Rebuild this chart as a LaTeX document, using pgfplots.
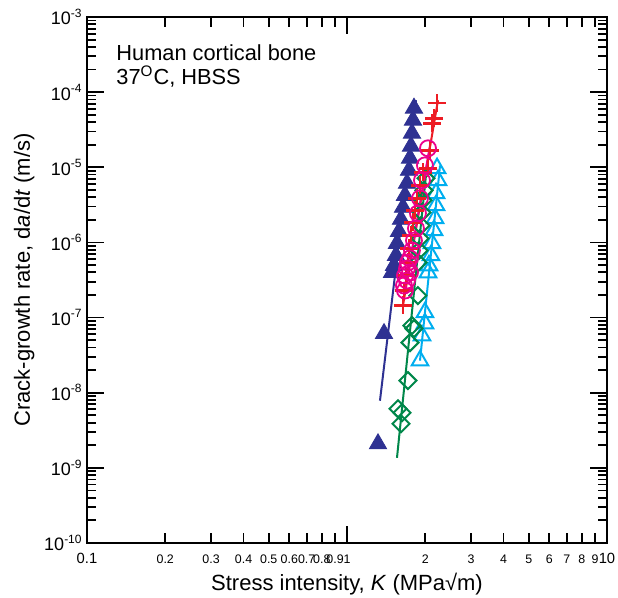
\documentclass[border=0pt]{standalone}
\usepackage{fontspec}
\setmainfont{Liberation Sans}
\usepackage{pgfplots}
\pgfplotsset{compat=1.18}
\definecolor{cblue}{HTML}{2E3192}
\definecolor{ccyan}{HTML}{00AEEF}
\definecolor{cgreen}{HTML}{00874A}
\definecolor{cred}{HTML}{ED1C24}
\definecolor{cmag}{HTML}{EC008C}
\begin{document}
\begin{tikzpicture}
\useasboundingbox (-43.5pt,-27.5pt) rectangle (265.5pt,271.5pt);
\begin{axis}[
  at={(0pt,0pt)}, anchor=south west,
  scale only axis, width=260pt, height=263pt,
  xmode=log, ymode=log,
  xmin=0.1, xmax=10, ymin=1e-10, ymax=1e-3,
  axis line style={line width=1.2pt},
  tick style={black, line width=0.9pt},
  major tick length=8.5pt, minor tick length=4.5pt,
  xtick={0.1,1,10},
  xticklabels={{\fontsize{7.4}{9}\selectfont 0.1},{\fontsize{6.2}{8}\selectfont 1},{\fontsize{7.4}{9}\selectfont 10}},
  minor xtick={0.2,0.3,0.4,0.5,0.6,0.7,0.8,0.9,2,3,4,5,6,7,8,9},
  extra x ticks={0.2,0.3,0.4,0.5,0.6,0.7,0.8,0.9,2,3,4,5,6,7,8,9},
  extra x tick labels={0.2,0.3,0.4,0.5,0.6,0.7,0.8,0.9,2,3,4,5,6,7,8,9},
  extra x tick style={major tick length=5pt, tick label style={font=\fontsize{6.2}{8}\selectfont}},
  x tick label style={anchor=base, inner sep=0pt, yshift=-10.2pt},
  ytick={1e-10,1e-9,1e-8,1e-7,1e-6,1e-5,1e-4,1e-3},
  yticklabels={10\textsuperscript{-10},10\textsuperscript{-9},10\textsuperscript{-8},10\textsuperscript{-7},10\textsuperscript{-6},10\textsuperscript{-5},10\textsuperscript{-4},10\textsuperscript{-3}},
  minor ytick={2e-10,3e-10,4e-10,5e-10,6e-10,7e-10,8e-10,9e-10,
    2e-9,3e-9,4e-9,5e-9,6e-9,7e-9,8e-9,9e-9,
    2e-8,3e-8,4e-8,5e-8,6e-8,7e-8,8e-8,9e-8,
    2e-7,3e-7,4e-7,5e-7,6e-7,7e-7,8e-7,9e-7,
    2e-6,3e-6,4e-6,5e-6,6e-6,7e-6,8e-6,9e-6,
    2e-5,3e-5,4e-5,5e-5,6e-5,7e-5,8e-5,9e-5,
    2e-4,3e-4,4e-4,5e-4,6e-4,7e-4,8e-4,9e-4},
  y tick label style={font=\fontsize{9}{10}\selectfont, anchor=east, inner sep=0pt, xshift=-2pt},
  xlabel={Stress intensity, \textit{K} (MPa√m)},
  xlabel style={font=\fontsize{11}{12}\selectfont, at={(axis description cs:0.5,-0.0894)}, anchor=base, inner sep=0pt},
  ylabel={Crack-growth rate, d\textit{a}/d\textit{t} (m/s)},
  ylabel style={font=\fontsize{11}{12}\selectfont, at={(axis description cs:-0.121,0.5)}, anchor=center, rotate=0},
  clip=false,
]
% blue filled triangles
\addplot[cblue, line width=1pt] coordinates {(1.339,7.82e-9) (1.842,7.82e-5)};
\addplot[only marks, mark=triangle*, mark size=5pt, color=cblue] coordinates {
(1.810,6.12e-5) (1.794,4.23e-5) (1.778,2.84e-5) (1.763,1.91e-5) (1.747,1.32e-5)
(1.732,9.12e-6) (1.701,6.12e-6) (1.671,4.23e-6) (1.642,2.93e-6) (1.613,2.03e-6)
(1.585,1.40e-6) (1.557,9.70e-7) (1.543,6.71e-7) (1.516,4.93e-7) (1.490,3.98e-7)
(1.388,6.12e-8) (1.316,2.09e-9)};
% cyan open triangles
\addplot[ccyan, line width=1pt] coordinates {(1.909,2.67e-8) (2.280,1.06e-5)};
\addplot[only marks, mark=triangle, mark size=4.8pt, color=ccyan, mark options={line width=1pt}] coordinates {
(2.220,9.70e-6) (2.239,6.71e-6) (2.200,4.50e-6) (2.200,3.11e-6) (2.181,2.09e-6)
(2.161,1.45e-6) (2.123,9.70e-7) (2.104,6.71e-7) (2.067,4.93e-7) (2.049,3.98e-7)
(1.995,1.17e-7) (1.995,8.32e-8) (1.943,5.75e-8) (1.909,2.67e-8)};
% green open diamonds
\addplot[cgreen, line width=1pt] coordinates {(1.557,1.36e-9) (2.013,7.82e-6)};
\addplot[only marks, mark=square, mark size=3pt, color=cgreen, mark options={rotate=45, line width=1pt}] coordinates {
(2.013,7.13e-6) (1.978,4.93e-6) (1.960,3.63e-6) (1.943,2.51e-6) (1.926,1.68e-6)
(1.909,1.13e-6) (1.892,7.82e-7) (1.875,5.41e-7) (1.875,1.96e-7) (1.778,7.82e-8)
(1.810,7.13e-8) (1.747,4.64e-8) (1.716,1.45e-8) (1.571,6.12e-9) (1.627,5.41e-9)
(1.613,3.86e-9)};
% red plus
\addplot[cred, line width=1pt] coordinates {(1.642,1.45e-7) (2.239,7.82e-5)};
\addplot[only marks, mark=+, mark size=4.5pt, color=cred, mark options={line width=1.3pt}] coordinates {
(2.220,7.13e-5) (2.161,4.50e-5) (2.123,3.86e-5) (2.086,1.68e-5) (2.049,9.70e-6)
(1.960,8.58e-6) (1.909,5.75e-6) (1.858,3.86e-6) (1.826,2.67e-6) (1.794,1.85e-6)
(1.763,1.24e-6) (1.732,8.32e-7) (1.716,5.41e-7) (1.686,3.63e-7) (1.656,2.29e-7)
(1.642,1.45e-7)};
% magenta circles
\addplot[cmag, line width=1pt] coordinates {(1.671,2.29e-7) (2.086,1.96e-5)};
\addplot[only marks, mark=o, mark size=4pt, color=cmag, mark options={line width=0.9pt}] coordinates {
(2.049,1.79e-5) (1.995,1.06e-5) (1.943,6.71e-6) (1.909,3.86e-6) (1.875,2.44e-6)
(1.842,1.54e-6) (1.810,1.06e-6) (1.778,7.82e-7) (1.747,6.12e-7) (1.716,5.41e-7)
(1.701,4.50e-7) (1.747,3.98e-7) (1.671,3.63e-7) (1.701,3.11e-7) (1.656,2.67e-7)
(1.671,2.29e-7)};
\node[anchor=base west, font=\fontsize{10.9}{12}\selectfont, inner sep=0pt] at (axis description cs:0.0558,0.918) {Human cortical bone};
\node[anchor=base west, font=\fontsize{10.9}{12}\selectfont, inner sep=0pt] at (axis description cs:0.0558,0.872) {37\textsuperscript{O}C, HBSS};
\end{axis}
\end{tikzpicture}
\end{document}
